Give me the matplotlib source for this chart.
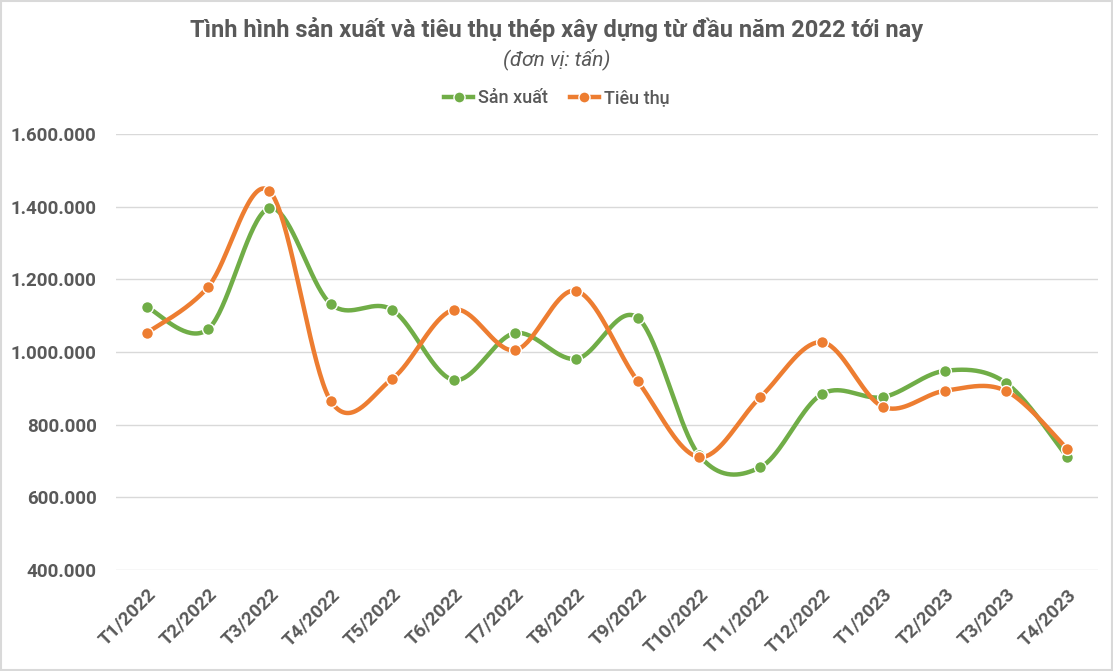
import numpy as np
import matplotlib
matplotlib.use("Agg")
import matplotlib.pyplot as plt
from matplotlib.patches import Rectangle
from matplotlib.lines import Line2D

categories = ["T1/2022", "T2/2022", "T3/2022", "T4/2022", "T5/2022", "T6/2022",
              "T7/2022", "T8/2022", "T9/2022", "T10/2022", "T11/2022", "T12/2022",
              "T1/2023", "T2/2023", "T3/2023", "T4/2023"]
san_xuat = [1124000, 1063000, 1396000, 1132000, 1116000, 923000, 1052000, 981000,
            1094000, 716000, 683000, 884000, 876000, 948000, 915000, 711000]
tieu_thu = [1052000, 1179000, 1443000, 865000, 926000, 1116000, 1005000, 1168000,
            920000, 711000, 876000, 1027000, 849000, 893000, 893000, 733000]
yticks = [400000, 600000, 800000, 1000000, 1200000, 1400000, 1600000]

FONT = ["Roboto", "DejaVu Sans"]
plt.rcParams["font.family"] = FONT
GRAY = "#595959"
GREEN = "#70ad47"
ORANGE = "#ed7d31"

def smooth(xs, ys, n=40):
    xs = np.asarray(xs, float); ys = np.asarray(ys, float)
    P = np.column_stack([xs, ys])
    out = []
    for i in range(len(P) - 1):
        p0 = P[i - 1] if i > 0 else P[i]
        p1 = P[i]; p2 = P[i + 1]
        p3 = P[i + 2] if i + 2 < len(P) else P[i + 1]
        c1 = p1 + (p2 - p0) / 6.0
        c2 = p2 - (p3 - p1) / 6.0
        t = np.linspace(0, 1, n)[:, None]
        seg = ((1 - t) ** 3) * p1 + 3 * ((1 - t) ** 2) * t * c1 + 3 * (1 - t) * t ** 2 * c2 + t ** 3 * p2
        out.append(seg if i == 0 else seg[1:])
    s = np.vstack(out)
    return s[:, 0], s[:, 1]

fig = plt.figure(figsize=(11.13, 6.71), dpi=100)
fig.patches.append(Rectangle((0.001, 0.001), 0.998, 0.997, transform=fig.transFigure,
                             fill=False, edgecolor="#d9d9d9", linewidth=1.5))
ax = fig.add_axes([116 / 1113, 1 - 570 / 671, 982 / 1113, 436 / 671])
x = np.arange(len(categories))

for vals, col in [(san_xuat, GREEN), (tieu_thu, ORANGE)]:
    sx, sy = smooth(x, vals)
    ax.plot(sx, sy, color=col, lw=3.2, solid_capstyle="round", zorder=3)
    ax.plot(x, vals, ls="none", marker="o", ms=8.5, mfc=col, mec="white", mew=1.0, zorder=4)

ax.set_xlim(-0.5, len(categories) - 0.5)
ax.set_ylim(400000, 1600000)
ax.set_yticks(yticks)
ax.set_yticklabels([f"{v:,}".replace(",", ".") for v in yticks],
                   fontsize=13.5, fontweight="bold", color=GRAY)
ax.set_xticks(x)
ax.set_xticklabels(categories, rotation=45, ha="right", rotation_mode="anchor",
                   fontsize=13.5, fontweight="bold", color=GRAY)
ax.tick_params(axis="both", length=0)
ax.tick_params(axis="y", pad=14)
ax.tick_params(axis="x", pad=11)
ax.grid(axis="y", color="#d9d9d9", lw=1)
ax.set_axisbelow(True)
for s in ax.spines.values():
    s.set_visible(False)

fig.text(557 / 1113, 1 - 30 / 671, "Tình hình sản xuất và tiêu thụ thép xây dựng từ đầu năm 2022 tới nay",
         ha="center", va="center", fontsize=17, fontweight="bold", color=GRAY)
fig.text(557 / 1113, 1 - 59 / 671, "(đơn vị: tấn)", ha="center", va="center",
         fontsize=15, style="italic", color=GRAY)

handles = [Line2D([], [], color=GREEN, lw=3.2, marker="o", ms=8, mec="white", mew=1),
           Line2D([], [], color=ORANGE, lw=3.2, marker="o", ms=8, mec="white", mew=1)]
fig.legend(handles, ["Sản xuất", "Tiêu thụ"], loc="center", bbox_to_anchor=(557 / 1113, 1 - 98 / 671),
           ncol=2, frameon=False, fontsize=13, labelcolor=GRAY, handlelength=1.6,
           handletextpad=0.3, columnspacing=1.2, prop={"weight": "medium", "size": 13})

fig.savefig("out.png", dpi=100)
